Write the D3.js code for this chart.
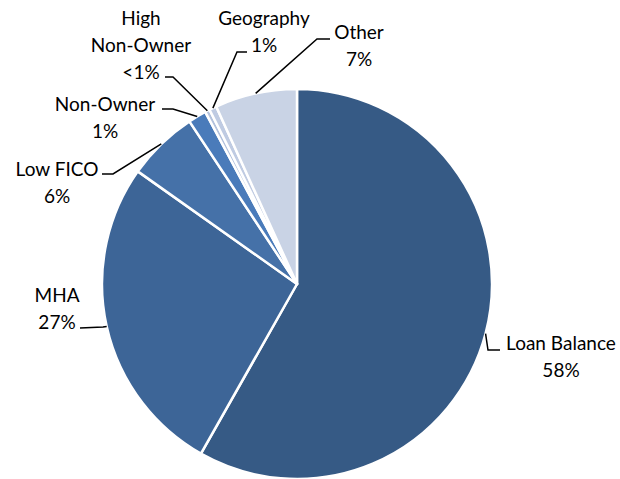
<!DOCTYPE html>
<html><head><meta charset="utf-8">
<script src="https://cdn.jsdelivr.net/npm/d3@7"></script>
<style>
html,body{margin:0;padding:0;background:#fff;}
svg{display:block;font-family:Lato,"Open Sans",sans-serif;}
</style></head><body>
<svg id="c" width="620" height="479"></svg>
<script>
// Data
const categories = ["Loan Balance","MHA","Low FICO","Non-Owner","High Non-Owner","Geography","Other"];
const values = [58.2, 26.6, 5.9, 1.5, 0.4, 0.6, 6.8];
const valueLabels = ["58%","27%","6%","1%","<1%","1%","7%"];
const labelLines = [["Loan Balance","58%"],["MHA","27%"],["Low FICO","6%"],["Non-Owner","1%"],["High","Non-Owner","<1%"],["Geography","1%"],["Other","7%"]];

// Style / layout
const colors = ["#365a85","#3d6597","#4571a8","#4a7bba","#b3c2dd","#bfcbe2","#c9d3e5"];
const cx = 297, cy = 284, R = 195;
// text center x, first baseline y; elbow point; end of horizontal segment
const layout = [
  {tx:561, ty:350, elbow:[488,350], end:[500,350]},
  {tx:57,  ty:302, elbow:[103,327], end:[80,328]},
  {tx:57,  ty:176, elbow:[113,174], end:[102,174]},
  {tx:105, ty:111, elbow:[173,109], end:[162,109]},
  {tx:141, ty:25,  elbow:[173,77],  end:[165,77]},
  {tx:264, ty:25,  elbow:[237,52],  end:[247,52]},
  {tx:359, ty:39,  elbow:[317,39],  end:[330,39]}
];
const lineH = 27;

const svg = d3.select("#c");
const g = svg.append("g").attr("transform",`translate(${cx},${cy})`);
const pie = d3.pie().sort(null).value(d=>d)(values);
const arc = d3.arc().innerRadius(0).outerRadius(R);

g.selectAll("path.slice").data(pie).join("path")
  .attr("class","slice")
  .attr("d",arc)
  .attr("fill",(d,i)=>colors[i])
  .attr("stroke","#fff")
  .attr("stroke-width",2.5)
  .attr("stroke-linejoin","round");

// leader lines
pie.forEach((d,i)=>{
  const a = (d.startAngle+d.endAngle)/2;
  const px = cx + R*Math.sin(a), py = cy - R*Math.cos(a);
  const L = layout[i];
  const pts = [[px,py], L.elbow, L.end];
  svg.append("path")
    .attr("d", d3.line()(pts))
    .attr("fill","none")
    .attr("stroke","#000")
    .attr("stroke-width",1.5);
});

// labels
labelLines.forEach((lines,i)=>{
  const L = layout[i];
  const t = svg.append("text")
    .attr("text-anchor","middle")
    .attr("font-size",19)
    .attr("fill","#000");
  lines.forEach((s,k)=>{
    t.append("tspan").attr("x",L.tx).attr("y",L.ty + k*lineH).text(s);
  });
});
</script>
</body></html>
